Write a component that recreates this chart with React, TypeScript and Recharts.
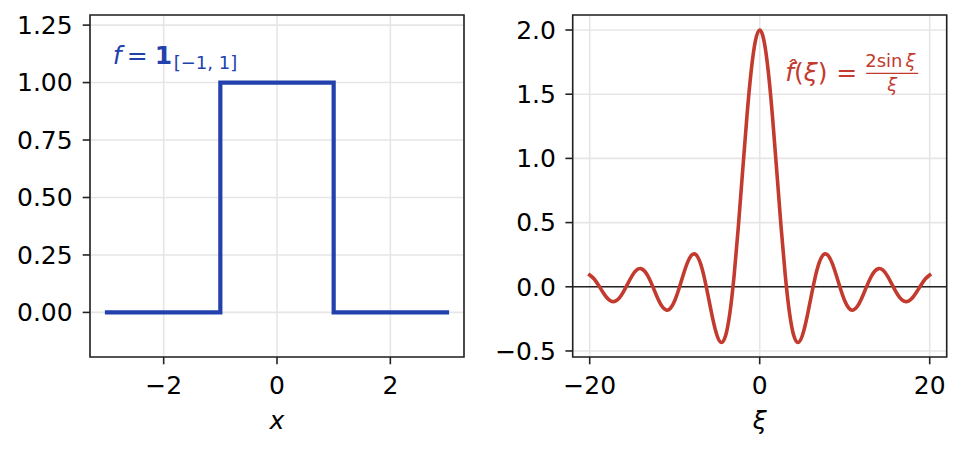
import React from 'react';
import {
  LineChart,
  Line,
  XAxis,
  YAxis,
  CartesianGrid,
  ReferenceArea,
  ReferenceLine,
  ReferenceDot,
} from 'recharts';

// ---------- data ----------
const stepX = [-3, -1, -1, 1, 1, 3];
const stepY = [0, 0, 1, 1, 0, 0];

const xiValues = [
  -20, -19.5, -19, -18.5, -18, -17.5, -17, -16.5, -16, -15.5, -15, -14.5, -14, -13.5, -13, -12.5,
  -12, -11.5, -11, -10.5, -10, -9.5, -9, -8.5, -8, -7.5, -7, -6.5, -6, -5.5, -5, -4.5, -4, -3.5,
  -3, -2.5, -2, -1.5, -1, -0.5, 0, 0.5, 1, 1.5, 2, 2.5, 3, 3.5, 4, 4.5, 5, 5.5, 6, 6.5, 7, 7.5, 8,
  8.5, 9, 9.5, 10, 10.5, 11, 11.5, 12, 12.5, 13, 13.5, 14, 14.5, 15, 15.5, 16, 16.5, 17, 17.5, 18,
  18.5, 19, 19.5, 20,
];
const fHatValues = [
  0.0913, 0.0621, 0.0158, -0.0369, -0.0834, -0.1114, -0.1131, -0.0863, -0.036, 0.0266, 0.0867,
  0.129, 0.1415, 0.1191, 0.0646, -0.0106, -0.0894, -0.1523, -0.1818, -0.1676, -0.1088, -0.0158,
  0.0916, 0.1879, 0.2473, 0.2501, 0.1877, 0.0662, -0.0931, -0.2566, -0.3836, -0.4345, -0.3784,
  -0.2004, 0.0941, 0.4788, 0.9093, 1.33, 1.6829, 1.9177, 2.0, 1.9177, 1.6829, 1.33, 0.9093, 0.4788,
  0.0941, -0.2004, -0.3784, -0.4345, -0.3836, -0.2566, -0.0931, 0.0662, 0.1877, 0.2501, 0.2473,
  0.1879, 0.0916, -0.0158, -0.1088, -0.1676, -0.1818, -0.1523, -0.0894, -0.0106, 0.0646, 0.1191,
  0.1415, 0.129, 0.0867, 0.0266, -0.036, -0.0863, -0.1131, -0.1114, -0.0834, -0.0369, 0.0158,
  0.0621, 0.0913,
];

const leftXTicks = [-2, 0, 2];
const leftYTicks = [0, 0.25, 0.5, 0.75, 1.0, 1.25];
const rightXTicks = [-20, 0, 20];
const rightYTicks = [-0.5, 0, 0.5, 1.0, 1.5, 2.0];

const leftXDomain = [-3.3, 3.3];
const leftYDomain = [-0.194, 1.294];
const rightXDomain = [-22, 22];
const rightYDomain = [-0.547, 2.117];

const leftNoteAt = { x: -2.9, y: 1.082 };
const rightNoteAt = { x: 3.0, y: 1.6 };

const stepData = stepX.map((x, i) => ({ x, y: stepY[i] }));
const fHatData = xiValues.map((x, i) => ({ x, y: fHatValues[i] }));

// ---------- style ----------
const BLUE = '#2241ad';
const RED = '#c23b2e';
const INK = '#222222';
const GRID = '#e6e6e6';
const FONT = 'DejaVu Sans';
const tickStyle = { fill: '#000', fontSize: 25, fontFamily: FONT };

const minus = (s: string) => s.replace('-', '\u2212');

const AxisTitle = (text: string) => (props: any) => {
  const vb = props.viewBox || {};
  return (
    <text
      x={vb.x + vb.width / 2}
      y={vb.y + vb.height - 22}
      textAnchor="middle"
      fontFamily={FONT}
      fontStyle="italic"
      fontSize={25}
      fill="#000"
    >
      {text}
    </text>
  );
};

const LeftNote = (props: any) => {
  const { cx, cy } = props;
  return (
    <g fill={BLUE} fontFamily={FONT}>
      <text x={cx} y={cy} fontSize={25} fontStyle="italic">f</text>
      <text x={cx + 14} y={cy} fontSize={25}>=</text>
      <text x={cx + 42} y={cy} fontSize={25} fontWeight="bold">1</text>
      <text x={cx + 61} y={cy + 5} fontSize={18}>[{'\u2212'}1, 1]</text>
    </g>
  );
};

const RightNote = (props: any) => {
  const { cx, cy } = props;
  return (
    <g fill={RED} fontFamily={FONT}>
      <text x={cx} y={cy} fontSize={25}>
        <tspan fontStyle="italic">{'f\u0302'}</tspan>
        <tspan>(</tspan>
        <tspan fontStyle="italic">{'\u03BE'}</tspan>
        <tspan>)</tspan>
      </text>
      <text x={cx + 51} y={cy} fontSize={25}>=</text>
      <text x={cx + 80} y={cy - 14} fontSize={18}>
        2sin<tspan dx={3} fontStyle="italic">{'\u03BE'}</tspan>
      </text>
      <line x1={cx + 81} x2={cx + 133} y1={cy - 8} y2={cy - 8} stroke={RED} strokeWidth={1.3} />
      <text x={cx + 107} y={cy + 10} fontSize={18} fontStyle="italic" textAnchor="middle">
        {'\u03BE'}
      </text>
    </g>
  );
};

export default function App() {
  return (
    <div
      style={{
        position: 'absolute',
        left: 0,
        top: 0,
        width: 962,
        height: 451,
        background: '#fff',
      }}
    >
      <div style={{ position: 'absolute', left: 0, top: 0 }}>
        <LineChart width={480} height={451} data={stepData} margin={{ top: 15, right: 16, left: 0, bottom: 0 }}>
          <CartesianGrid stroke={GRID} strokeWidth={1.6} />
          <XAxis
            type="number"
            dataKey="x"
            domain={leftXDomain}
            ticks={leftXTicks}
            interval={0}
            allowDataOverflow
            axisLine={false}
            stroke={INK}
            tickLine={{ stroke: INK, strokeWidth: 1.6 }}
            tickSize={7.3}
            tickMargin={12}
            height={94}
            tick={tickStyle}
            tickFormatter={(v: number) => minus(String(v))}
            label={{ content: AxisTitle('x') }}
          />
          <YAxis
            type="number"
            domain={leftYDomain}
            ticks={leftYTicks}
            interval={0}
            allowDataOverflow
            axisLine={false}
            stroke={INK}
            tickLine={{ stroke: INK, strokeWidth: 1.6 }}
            tickSize={7.3}
            tickMargin={10}
            width={90}
            tick={tickStyle}
            tickFormatter={(v: number) => minus(v.toFixed(2))}
          />
          <Line
            type="linear"
            dataKey="y"
            stroke={BLUE}
            strokeWidth={4.2}
            strokeLinecap="square"
            dot={false}
            isAnimationActive={false}
          />
          <ReferenceArea
            x1={leftXDomain[0]}
            x2={leftXDomain[1]}
            y1={leftYDomain[0]}
            y2={leftYDomain[1]}
            fill="none"
            fillOpacity={0}
            stroke={INK}
            strokeWidth={1.6}
            strokeOpacity={1}
          />
          <ReferenceDot x={leftNoteAt.x} y={leftNoteAt.y} r={0} shape={LeftNote} />
        </LineChart>
      </div>
      <div style={{ position: 'absolute', left: 480, top: 0 }}>
        <LineChart width={482} height={451} data={fHatData} margin={{ top: 15, right: 15.3, left: 0, bottom: 0 }}>
          <CartesianGrid stroke={GRID} strokeWidth={1.6} />
          <XAxis
            type="number"
            dataKey="x"
            domain={rightXDomain}
            ticks={rightXTicks}
            interval={0}
            allowDataOverflow
            axisLine={false}
            stroke={INK}
            tickLine={{ stroke: INK, strokeWidth: 1.6 }}
            tickSize={7.3}
            tickMargin={12}
            height={94}
            tick={tickStyle}
            tickFormatter={(v: number) => minus(String(v))}
            label={{ content: AxisTitle('\u03BE') }}
          />
          <YAxis
            type="number"
            domain={rightYDomain}
            ticks={rightYTicks}
            interval={0}
            allowDataOverflow
            axisLine={false}
            stroke={INK}
            tickLine={{ stroke: INK, strokeWidth: 1.6 }}
            tickSize={7.3}
            tickMargin={9.5}
            width={92.7}
            tick={tickStyle}
            tickFormatter={(v: number) => minus(v.toFixed(1))}
          />
          <ReferenceLine y={0} stroke={INK} strokeWidth={1.6} />
          <Line
            type="natural"
            dataKey="y"
            stroke={RED}
            strokeWidth={3.6}
            strokeLinecap="square"
            dot={false}
            isAnimationActive={false}
          />
          <ReferenceArea
            x1={rightXDomain[0]}
            x2={rightXDomain[1]}
            y1={rightYDomain[0]}
            y2={rightYDomain[1]}
            fill="none"
            fillOpacity={0}
            stroke={INK}
            strokeWidth={1.6}
            strokeOpacity={1}
          />
          <ReferenceDot x={rightNoteAt.x} y={rightNoteAt.y} r={0} shape={RightNote} />
        </LineChart>
      </div>
    </div>
  );
}
